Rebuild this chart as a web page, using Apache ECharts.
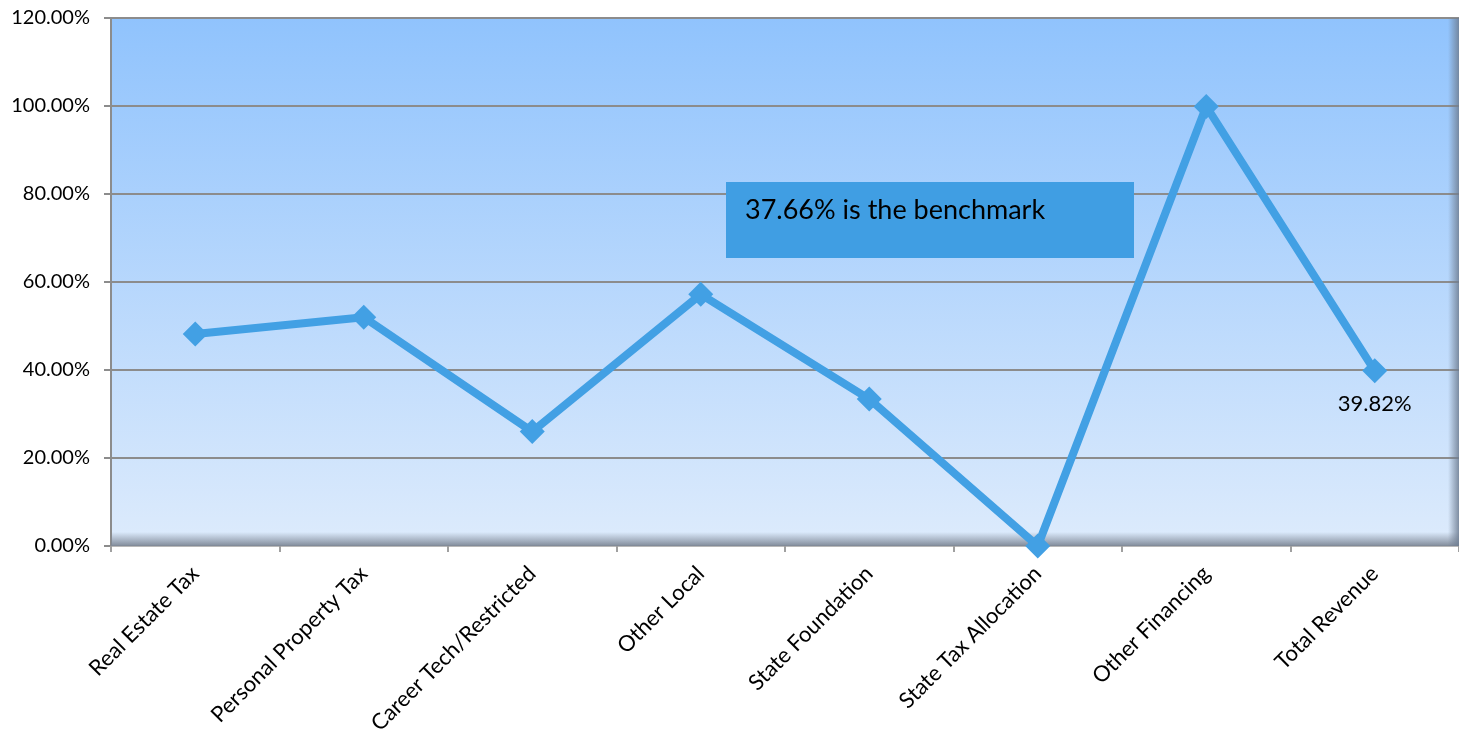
<!DOCTYPE html>
<html>
<head>
<meta charset="utf-8">
<script src="https://cdn.jsdelivr.net/npm/echarts@6/dist/echarts.min.js"></script>
<style>html,body{margin:0;padding:0;background:#fff;}#c{width:1459px;height:744px;}</style>
</head>
<body>
<div id="c"></div>
<script>
const categories = ["Real Estate Tax","Personal Property Tax","Career Tech/Restricted","Other Local","State Foundation","State Tax Allocation","Other Financing","Total Revenue"];
const values = [48.2, 52.0, 26.0, 57.2, 33.4, 0.0, 99.9, 39.82];
const yTicks = {min: 0, max: 120, interval: 20};
const benchmarkText = "37.66% is the benchmark";
const labeledIndex = 7;

const chart = echarts.init(document.getElementById('c'));
const FONT = 'Lato';
const seriesData = values.map((v, i) => i === labeledIndex ? {
  value: v,
  label: {show: true, position: 'bottom', distance: 10, fontSize: 22, fontFamily: FONT, color: '#000',
          formatter: p => p.value.toFixed(2) + '%'}
} : v);

chart.setOption({
  animation: false,
  grid: {
    left: 111, top: 18, bottom: 198, width: 1353, containLabel: false,
    show: true, borderWidth: 0,
    backgroundColor: new echarts.graphic.LinearGradient(0, 0, 0, 1, [
      {offset: 0, color: '#90C3FD'},
      {offset: 1, color: '#DDEBFC'}
    ])
  },
  xAxis: {
    type: 'category', data: categories, boundaryGap: true,
    axisLine: {show: true, lineStyle: {color: '#B8B8B8', width: 2}},
    axisTick: {show: true, length: 6, lineStyle: {color: '#A0A0A0', width: 2}},
    axisLabel: {rotate: 45, fontSize: 22, fontFamily: FONT, color: '#000', margin: 24, interval: 0},
    splitLine: {show: false}
  },
  yAxis: {
    type: 'value', min: yTicks.min, max: yTicks.max, interval: yTicks.interval,
    axisLine: {show: true, lineStyle: {color: '#8C8C8C', width: 2}},
    axisTick: {show: true, length: 7, lineStyle: {color: '#8C8C8C', width: 2}},
    axisLabel: {fontSize: 20, fontFamily: FONT, color: '#000', margin: 21, formatter: v => v.toFixed(2) + '%'},
    splitLine: {show: true, lineStyle: {color: '#8C8C8C', width: 2}}
  },
  graphic: [
    {type: 'rect', z: 1, silent: true, shape: {x: 111, y: 532, width: 1360, height: 14},
     style: {fill: new echarts.graphic.LinearGradient(0, 0, 0, 1, [
       {offset: 0, color: 'rgba(125,135,150,0)'},
       {offset: 1, color: 'rgba(125,135,150,0.95)'}])}},
    {type: 'rect', z: 1, silent: true, shape: {x: 1448, y: 18, width: 11, height: 528},
     style: {fill: new echarts.graphic.LinearGradient(0, 0, 1, 0, [
       {offset: 0, color: 'rgba(110,125,145,0)'},
       {offset: 1, color: 'rgba(110,125,145,0.85)'}])}},
    {type: 'rect', z: 5, silent: true, shape: {x: 726, y: 182, width: 408, height: 76},
     style: {fill: '#409EE3'}},
    {type: 'text', z: 6, silent: true, x: 745, y: 210,
     style: {text: benchmarkText, fontSize: 27, fontFamily: FONT, fill: '#000', verticalAlign: 'middle', align: 'left'}}
  ],
  series: [{
    type: 'line', data: seriesData, z: 3,
    lineStyle: {color: '#42A0E4', width: 8},
    itemStyle: {color: '#42A0E4'},
    symbol: 'diamond', symbolSize: 25, showSymbol: true
  }]
});
</script>
</body>
</html>
